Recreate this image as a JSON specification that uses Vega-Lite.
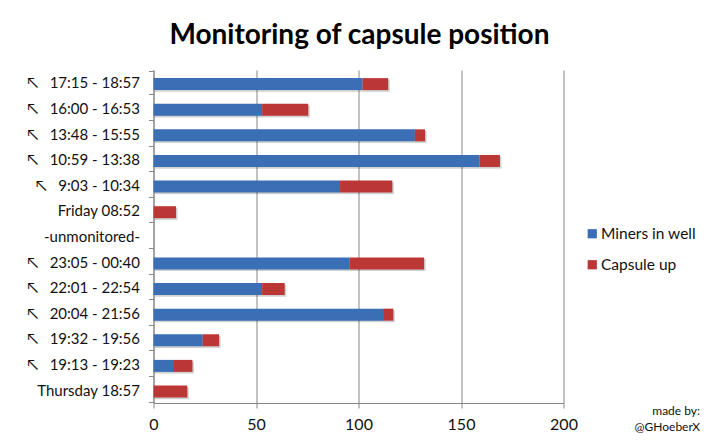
{
"$schema":"https://vega.github.io/schema/vega-lite/v6.json",
"width":410,"height":333,
"autosize":{"type":"none"},
"padding":{"left":153.5,"top":70,"right":151.5,"bottom":45},
"background":"white",
"config":{"font":"Lato","view":{"stroke":null}},
"title":{"text":"Monitoring of capsule position","font":"Lato","fontSize":28,"fontWeight":"bold","color":"#000000","anchor":"start","dx":143,"dy":26,"offset":17,"baseline":"alphabetic"},
"data":{"values":[
{"t":"↖\u00a0\u00a0\u00a017:15 - 18:57","s":"Miners in well","o":1,"v":102},{"t":"↖\u00a0\u00a0\u00a017:15 - 18:57","s":"Capsule up","o":2,"v":12.5},
{"t":"↖\u00a0\u00a0\u00a016:00 - 16:53","s":"Miners in well","o":1,"v":53},{"t":"↖\u00a0\u00a0\u00a016:00 - 16:53","s":"Capsule up","o":2,"v":22.5},
{"t":"↖\u00a0\u00a0\u00a013:48 - 15:55","s":"Miners in well","o":1,"v":127.5},{"t":"↖\u00a0\u00a0\u00a013:48 - 15:55","s":"Capsule up","o":2,"v":5},
{"t":"↖\u00a0\u00a0\u00a010:59 - 13:38","s":"Miners in well","o":1,"v":159},{"t":"↖\u00a0\u00a0\u00a010:59 - 13:38","s":"Capsule up","o":2,"v":10},
{"t":"↖\u00a0\u00a0\u00a09:03 - 10:34","s":"Miners in well","o":1,"v":91},{"t":"↖\u00a0\u00a0\u00a09:03 - 10:34","s":"Capsule up","o":2,"v":25.5},
{"t":"Friday 08:52","s":"Capsule up","o":2,"v":11},
{"t":"↖\u00a0\u00a0\u00a023:05 - 00:40","s":"Miners in well","o":1,"v":95.5},{"t":"↖\u00a0\u00a0\u00a023:05 - 00:40","s":"Capsule up","o":2,"v":36.5},
{"t":"↖\u00a0\u00a0\u00a022:01 - 22:54","s":"Miners in well","o":1,"v":53},{"t":"↖\u00a0\u00a0\u00a022:01 - 22:54","s":"Capsule up","o":2,"v":11},
{"t":"↖\u00a0\u00a0\u00a020:04 - 21:56","s":"Miners in well","o":1,"v":112},{"t":"↖\u00a0\u00a0\u00a020:04 - 21:56","s":"Capsule up","o":2,"v":5},
{"t":"↖\u00a0\u00a0\u00a019:32 - 19:56","s":"Miners in well","o":1,"v":24},{"t":"↖\u00a0\u00a0\u00a019:32 - 19:56","s":"Capsule up","o":2,"v":8},
{"t":"↖\u00a0\u00a0\u00a019:13 - 19:23","s":"Miners in well","o":1,"v":10},{"t":"↖\u00a0\u00a0\u00a019:13 - 19:23","s":"Capsule up","o":2,"v":9},
{"t":"Thursday 18:57","s":"Capsule up","o":2,"v":16.5}
]},
"encoding":{
"y":{"field":"t","type":"nominal","title":null,
"scale":{"domain":["↖\u00a0\u00a0\u00a017:15 - 18:57","↖\u00a0\u00a0\u00a016:00 - 16:53","↖\u00a0\u00a0\u00a013:48 - 15:55","↖\u00a0\u00a0\u00a010:59 - 13:38","↖\u00a0\u00a0\u00a09:03 - 10:34","Friday 08:52","-unmonitored-","↖\u00a0\u00a0\u00a023:05 - 00:40","↖\u00a0\u00a0\u00a022:01 - 22:54","↖\u00a0\u00a0\u00a020:04 - 21:56","↖\u00a0\u00a0\u00a019:32 - 19:56","↖\u00a0\u00a0\u00a019:13 - 19:23","Thursday 18:57"]},
"axis":{"labelFontSize":15,"labelColor":"#111111","labelFont":"Lato","tickBand":"extent","tickSize":5,"tickColor":"#868686","domainColor":"#868686","labelPadding":9,"grid":false,"labelLimit":150}},
"x":{"field":"v","type":"quantitative","stack":"zero","scale":{"domain":[0,200]},
"title":["made by:","@GHoeberX"],
"axis":{"values":[0,50,100,150,200],"labelFlush":false,"labelFontSize":16,"labelColor":"#111111","labelPadding":8,"grid":true,"gridColor":"#868686","gridWidth":1,"tickColor":"#868686","tickSize":5,"domainColor":"#868686",
"titleFontSize":12,"titleFontWeight":"normal","titleColor":"#111111","titleAlign":"right","titleX":546,"titleY":2,"titleBaseline":"top","titleLineHeight":16}},
"order":{"field":"o","type":"quantitative"}
},
"layer":[
{"mark":{"type":"bar","height":12,"color":"#000000","opacity":0.18,"yOffset":3,"xOffset":1.5},"encoding":{"detail":{"field":"s"}}},
{"mark":{"type":"bar","height":12,"yOffset":1.3},
"encoding":{"color":{"field":"s","type":"nominal","sort":["Miners in well","Capsule up"],
"scale":{"domain":["Miners in well","Capsule up"],"range":["#3a6eb5","#bb3735"]},
"legend":{"title":null,"orient":"none","legendX":431,"legendY":156,"symbolType":"square","symbolSize":85,"symbolStrokeWidth":0,"labelFontSize":15.5,"labelColor":"#111111","rowPadding":14,"labelOffset":1}}}}
]
}
